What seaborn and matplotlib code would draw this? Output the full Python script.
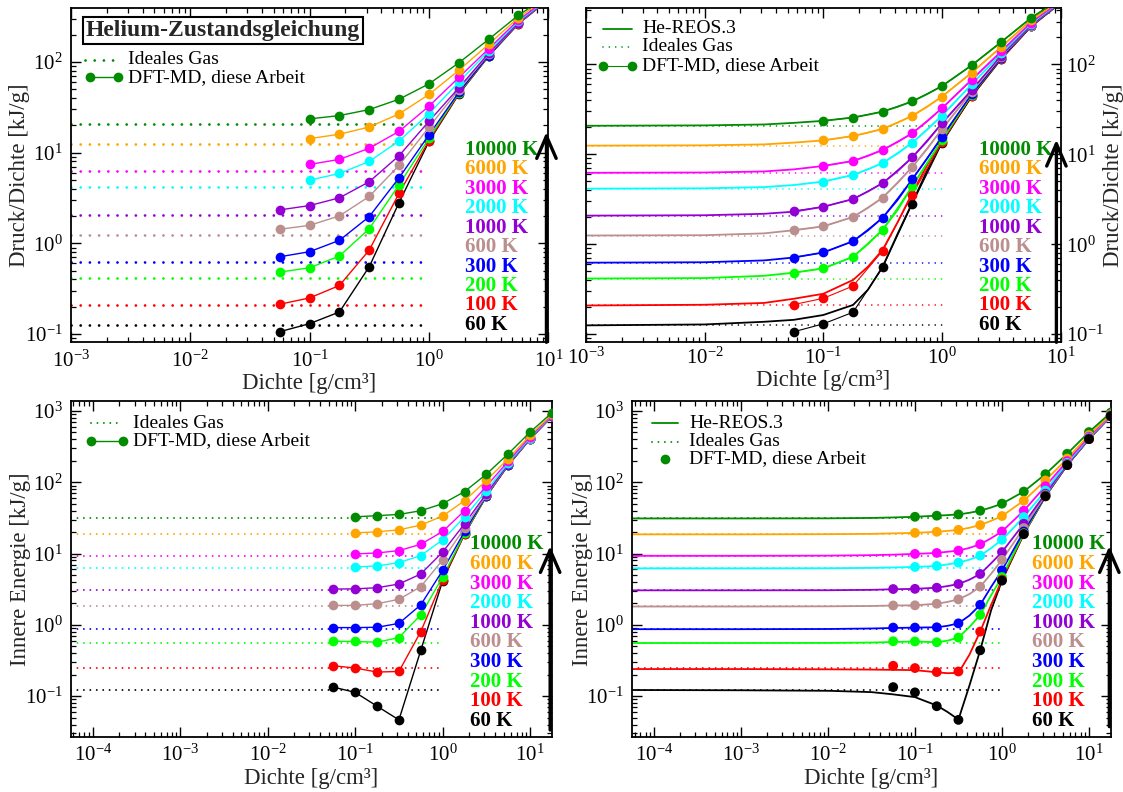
import numpy as np
import pandas as pd
import matplotlib
matplotlib.use("Agg")
import matplotlib.pyplot as plt
import seaborn as sns
from matplotlib.lines import Line2D
from matplotlib.ticker import LogLocator, NullFormatter, LogFormatterSciNotation

# ---------------- data ----------------
temps = ["10000 K", "6000 K", "3000 K", "2000 K", "1000 K", "600 K", "300 K", "200 K", "100 K", "60 K"]
colors = ["#008b00", "#ffa500", "#ff00ff", "#00ffff", "#9400d3", "#bc8f8f", "#0000ff", "#00ff00", "#ff0000", "#000000"]

# ideal gas levels
ideal_pr = [20.8, 12.5, 6.23, 4.15, 2.08, 1.25, 0.623, 0.415, 0.208, 0.125]
ideal_u = [31.1, 18.6, 9.3, 6.2, 3.05, 1.81, 0.87, 0.557, 0.248, 0.122]
rho_ideal_top = [1e-3, 1.0]
rho_ideal_bot = [5.6e-5, 1.0]

nan = np.nan
# DFT-MD densities
rho_dft = [0.0562, 0.1, 0.178, 0.316, 0.562, 1.0, 1.78, 3.16, 5.62, 10.0, 17.8]
# DFT-MD pressure/density [kJ/g]
pr_dft = [
    [nan, 23.6, 25.7, 29.9, 38.9, 57.5, 98, 178, 329, 540, nan],
    [nan, 14.3, 16.0, 19.2, 26.8, 43.9, 81, 157, 310, 520, nan],
    [nan, 7.43, 8.44, 11.2, 17.2, 32.6, 67.6, 140, 292, 505, nan],
    [nan, 4.98, 5.9, 8.0, 13.5, 27.0, 60, 133, 282, 500, nan],
    [2.34, 2.61, 3.18, 4.78, 9.27, 22.2, 52, 125, 272, 495, nan],
    [1.43, 1.58, 2.01, 3.29, 7.25, 19.1, 49.8, 122, 270, 492, nan],
    [0.711, 0.809, 1.08, 1.97, 5.29, 15.7, 46.5, 118, 268, 490, nan],
    [0.482, 0.538, 0.724, 1.45, 4.43, 14.4, 45.7, 118, 268, 490, nan],
    [0.213, 0.25, 0.343, 0.843, 3.57, 13.6, 45, 116, 265, 488, nan],
    [0.106, 0.13, 0.175, 0.552, 2.82, 13.3, 44.3, 116, 265, 488, nan],
]
# DFT-MD inner energy [kJ/g]
u_dft = [
    [nan, 32.8, 34.0, 35.4, 39.9, 50.1, 74, 130, 251, 506, 948],
    [nan, 19.5, 20.2, 21.5, 25.1, 33.6, 55.2, 106, 215, 459, 897],
    [nan, 9.89, 10.2, 11.0, 13.5, 20.4, 39.9, 88, 198, 435, 879],
    [nan, 6.49, 6.7, 7.46, 9.37, 15.6, 32.5, 76.4, 187, 421, 870],
    [3.18, 3.2, 3.32, 3.74, 5.17, 10.5, 26.2, 69.2, 181, 412, 860],
    [1.87, 1.88, 1.98, 2.28, 3.43, 8.15, 22.8, 66.4, 178, 407, 850],
    [0.916, 0.916, 0.925, 1.05, 1.91, 5.82, 20.4, 64.9, 175, 407, 850],
    [0.589, 0.585, 0.571, 0.664, 1.38, 4.69, 19.3, 64.2, 175, 405, 848],
    [0.267, 0.248, 0.218, 0.222, 0.805, 4.3, 18.9, 63.6, 174, 403, 847],
    [0.134, 0.113, 0.0723, 0.0465, 0.44, 4.17, 18.7, 63.6, 174, 403, 847],
]

# He-REOS.3 pressure/density
rho_reos_top = [0.001, 0.01, 0.0316, 0.0562, 0.1, 0.178, 0.237, 0.316, 0.422, 0.562, 0.75, 1.0, 1.78, 3.16, 5.62, 10.0]
pr_reos = [
    [20.8, 21.0, 21.5, 22.4, 23.6, 25.7, 27.6, 29.9, 33.8, 38.9, 46.8, 57.5, 98, 178, 329, 540],
    [12.5, 12.6, 12.9, 13.5, 14.3, 16.0, 17.4, 19.2, 22.5, 26.8, 33.8, 43.9, 81, 157, 310, 520],
    [6.23, 6.28, 6.45, 6.8, 7.43, 8.44, 9.6, 11.2, 13.7, 17.2, 23.3, 32.6, 67.6, 140, 292, 505],
    [4.15, 4.19, 4.32, 4.55, 4.98, 5.9, 6.8, 8.0, 10.2, 13.5, 18.8, 27.0, 60, 133, 282, 500],
    [2.08, 2.1, 2.18, 2.3, 2.61, 3.18, 3.85, 4.78, 6.5, 9.27, 14.0, 22.2, 52, 125, 272, 495],
    [1.25, 1.26, 1.32, 1.43, 1.58, 2.01, 2.53, 3.29, 4.8, 7.25, 11.5, 19.1, 49.8, 122, 270, 492],
    [0.623, 0.63, 0.66, 0.711, 0.809, 1.08, 1.42, 1.97, 3.1, 5.29, 9.0, 15.7, 46.5, 118, 268, 490],
    [0.415, 0.42, 0.445, 0.482, 0.538, 0.724, 1.0, 1.45, 2.4, 4.43, 8.0, 14.4, 45.7, 118, 268, 490],
    [0.208, 0.212, 0.222, 0.247, 0.281, 0.40, 0.56, 0.866, 1.75, 3.72, 7.6, 14.3, 45, 116, 265, 488],
    [0.125, 0.128, 0.137, 0.144, 0.163, 0.211, 0.31, 0.56, 1.3, 2.9, 6.6, 14.1, 44.3, 116, 265, 488],
]
# He-REOS.3 inner energy
rho_reos_bot = [5.6e-5, 1e-3, 0.01, 0.0316, 0.0562, 0.1, 0.178, 0.237, 0.316, 0.422, 0.562, 0.75, 1.0, 1.78, 3.16, 5.62, 10.0, 17.8]
u_reos = [
    [31.1, 31.1, 31.2, 31.6, 32.1, 32.8, 34.0, 34.6, 35.4, 37.3, 39.9, 44.3, 50.1, 74, 130, 251, 506, 948],
    [18.6, 18.6, 18.7, 18.9, 19.2, 19.5, 20.2, 20.8, 21.5, 23.0, 25.1, 28.8, 33.6, 55.2, 106, 215, 459, 897],
    [9.3, 9.3, 9.35, 9.5, 9.65, 9.89, 10.2, 10.6, 11.0, 12.0, 13.5, 16.4, 20.4, 39.9, 88, 198, 435, 879],
    [6.2, 6.2, 6.22, 6.3, 6.38, 6.49, 6.7, 7.05, 7.46, 8.2, 9.37, 11.9, 15.6, 32.5, 76.4, 187, 421, 870],
    [3.05, 3.05, 3.06, 3.1, 3.16, 3.2, 3.32, 3.5, 3.74, 4.3, 5.17, 7.3, 10.5, 26.2, 69.2, 181, 412, 860],
    [1.81, 1.81, 1.82, 1.84, 1.87, 1.88, 1.98, 2.1, 2.28, 2.7, 3.43, 5.2, 8.15, 22.8, 66.4, 178, 407, 850],
    [0.87, 0.87, 0.875, 0.89, 0.905, 0.916, 0.925, 0.97, 1.05, 1.35, 1.91, 3.4, 5.82, 20.4, 64.9, 175, 407, 850],
    [0.557, 0.557, 0.558, 0.565, 0.575, 0.585, 0.571, 0.6, 0.664, 0.93, 1.38, 2.6, 4.69, 19.3, 64.2, 175, 405, 848],
    [0.24, 0.24, 0.238, 0.236, 0.234, 0.232, 0.216, 0.21, 0.212, 0.38, 0.805, 1.9, 4.3, 18.9, 63.6, 174, 403, 847],
    [0.122, 0.121, 0.119, 0.114, 0.106, 0.097, 0.074, 0.06, 0.047, 0.14, 0.44, 1.6, 4.17, 18.7, 63.6, 174, 403, 847],
]

# ---------------- style ----------------
sns.set_theme(style="ticks")
plt.rcParams["font.family"] = ["Liberation Serif", "DejaVu Serif"]
plt.rcParams["mathtext.fontset"] = "custom"
plt.rcParams["mathtext.rm"] = "Liberation Serif"
plt.rcParams["mathtext.it"] = "Liberation Serif:italic"
plt.rcParams["mathtext.bf"] = "Liberation Serif:bold"

pal = dict(zip(temps, colors))
draw_order = temps[::-1]
LEG_GREEN = colors[0]
LABEL_FS = 16.5


def long_df(x, rows):
    recs = []
    for t, row in zip(temps, rows):
        for xi, yi in zip(x, row):
            if not np.isnan(yi):
                recs.append((t, xi, yi))
    return pd.DataFrame(recs, columns=["T", "rho", "val"])


def ideal_df(x, levels):
    recs = []
    for t, v in zip(temps, levels):
        for xi in x:
            recs.append((t, xi, v))
    return pd.DataFrame(recs, columns=["T", "rho", "val"])


fig = plt.figure(figsize=(11.23, 7.92), dpi=100)
ax_tl = fig.add_axes([0.063, 0.5678, 0.4253, 0.4215])
ax_tr = fig.add_axes([0.5218, 0.5678, 0.4227, 0.4215])
ax_bl = fig.add_axes([0.063, 0.0698, 0.4286, 0.4239])
ax_br = fig.add_axes([0.5628, 0.0698, 0.4263, 0.4239])


def style_axes(ax, xlim, ylim, right=False):
    ax.set_xscale("log")
    ax.set_yscale("log")
    ax.set_xlim(*xlim)
    ax.set_ylim(*ylim)
    for axis in (ax.xaxis, ax.yaxis):
        axis.set_major_locator(LogLocator(base=10, numticks=30))
        axis.set_minor_locator(LogLocator(base=10, subs=np.arange(2, 10) * 1.0, numticks=300))
        axis.set_major_formatter(LogFormatterSciNotation())
        axis.set_minor_formatter(NullFormatter())
    ax.tick_params(which="both", direction="in", top=True, right=True, left=True, bottom=True,
                   labelsize=15, pad=6, colors="black")
    ax.tick_params(which="major", length=7, width=1.0)
    ax.tick_params(which="minor", length=3.5, width=0.9)
    for s in ax.spines.values():
        s.set_linewidth(1.3)
        s.set_color("black")
    if right:
        ax.tick_params(labelleft=False, labelright=True, pad=4)
        ax.yaxis.set_label_position("right")
    ax.set_facecolor("white")


style_axes(ax_tl, (1e-3, 10), (0.081, 390))
style_axes(ax_tr, (1e-3, 10), (0.081, 420), right=True)
style_axes(ax_bl, (5.6e-5, 17.8), (0.027, 1380))
style_axes(ax_br, (5.6e-5, 17.8), (0.027, 1380))

# ---------------- marks ----------------
# top-left
sns.lineplot(data=ideal_df(rho_ideal_top, ideal_pr), x="rho", y="val", hue="T", hue_order=draw_order,
             palette=pal, legend=False, ax=ax_tl, estimator=None, lw=2.0,
             linestyle=(0, (0.01, 3.3)), dash_capstyle="round", zorder=1)
sns.lineplot(data=long_df(rho_dft, pr_dft), x="rho", y="val", hue="T", hue_order=draw_order,
             palette=pal, legend=False, ax=ax_tl, estimator=None, lw=1.0, marker="o",
             markersize=7, markeredgewidth=0, zorder=3)

# top-right
sns.lineplot(data=ideal_df(rho_ideal_top, ideal_pr), x="rho", y="val", hue="T", hue_order=draw_order,
             palette=pal, legend=False, ax=ax_tr, estimator=None, lw=1.2,
             linestyle=(0, (0.01, 3.8)), dash_capstyle="round", zorder=1)
sns.lineplot(data=long_df(rho_reos_top, pr_reos), x="rho", y="val", hue="T", hue_order=draw_order,
             palette=pal, legend=False, ax=ax_tr, estimator=None, lw=1.3, zorder=2)
sns.lineplot(data=long_df(rho_dft, pr_dft), x="rho", y="val", hue="T", hue_order=draw_order,
             palette=pal, legend=False, ax=ax_tr, estimator=None, lw=0.8, marker="o",
             markersize=7, markeredgewidth=0, zorder=3)

# bottom-left
sns.lineplot(data=ideal_df(rho_ideal_bot, ideal_u), x="rho", y="val", hue="T", hue_order=draw_order,
             palette=pal, legend=False, ax=ax_bl, estimator=None, lw=1.4,
             linestyle=(0, (0.01, 3.3)), dash_capstyle="round", zorder=1)
sns.lineplot(data=long_df(rho_dft, u_dft), x="rho", y="val", hue="T", hue_order=draw_order,
             palette=pal, legend=False, ax=ax_bl, estimator=None, lw=1.0, marker="o",
             markersize=7, markeredgewidth=0, zorder=3)

# bottom-right
sns.lineplot(data=ideal_df(rho_ideal_bot, ideal_u), x="rho", y="val", hue="T", hue_order=draw_order,
             palette=pal, legend=False, ax=ax_br, estimator=None, lw=1.4,
             linestyle=(0, (0.01, 3.3)), dash_capstyle="round", zorder=1)
sns.lineplot(data=long_df(rho_reos_bot, u_reos), x="rho", y="val", hue="T", hue_order=draw_order,
             palette=pal, legend=False, ax=ax_br, estimator=None, lw=1.3, zorder=2)
sns.scatterplot(data=long_df(rho_dft, u_dft), x="rho", y="val", hue="T", hue_order=draw_order,
                palette=pal, legend=False, ax=ax_br, s=50, linewidth=0, zorder=3)

for ax in (ax_tl, ax_tr, ax_bl, ax_br):
    ax.set_xlabel("Dichte [g/cm³]", fontsize=LABEL_FS, labelpad=1)
ax_tl.set_ylabel("Druck/Dichte [kJ/g]", fontsize=LABEL_FS)
ax_tr.set_ylabel("Druck/Dichte [kJ/g]", fontsize=LABEL_FS, labelpad=-1)
ax_bl.set_ylabel("Innere Energie [kJ/g]", fontsize=LABEL_FS)
ax_br.set_ylabel("Innere Energie [kJ/g]", fontsize=LABEL_FS)
ax_tl.yaxis.set_label_coords(-0.086, 0.5)
ax_bl.yaxis.set_label_coords(-0.082, 0.5)
ax_br.yaxis.set_label_coords(-0.082, 0.5)

# ---------------- temperature labels & arrows ----------------
def temp_labels(ax, x0, ytop, step):
    for i, (t, c) in enumerate(zip(temps, colors)):
        ax.text(x0, ytop - i * step, t, transform=ax.transAxes, color=c, fontsize=15,
                fontweight="bold", ha="left", va="center", zorder=5)


def arrow(ax, x, y0, y1):
    ax.annotate("", xy=(x, y1), xytext=(x, y0), xycoords="axes fraction", textcoords="axes fraction",
                arrowprops=dict(arrowstyle="->,head_length=0.8,head_width=0.35", lw=2.4, color="black",
                                mutation_scale=20, shrinkA=0, shrinkB=0), zorder=6)


temp_labels(ax_tl, 0.826, 0.576, 0.0582)
temp_labels(ax_tr, 0.828, 0.576, 0.0582)
temp_labels(ax_bl, 0.830, 0.573, 0.0584)
temp_labels(ax_br, 0.836, 0.573, 0.0584)
arrow(ax_tl, 0.996, 0.0, 0.63)
arrow(ax_tr, 0.991, 0.0, 0.607)
arrow(ax_bl, 0.996, 0.02, 0.568)
arrow(ax_br, 0.997, 0.03, 0.568)

# ---------------- legends (manual) ----------------
def leg_line(ax, x0, x1, y, **kw):
    ax.add_line(Line2D([x0, x1], [y, y], transform=ax.transAxes, color=LEG_GREEN, **kw))


def leg_text(ax, x, y, s):
    ax.text(x, y, s, transform=ax.transAxes, fontsize=14, ha="left", va="center", color="black")


ax_tl.text(0.318, 0.9335, "Helium-Zustandsgleichung", transform=ax_tl.transAxes, fontsize=17,
           fontweight="bold", ha="center", va="center",
           bbox=dict(boxstyle="square,pad=0.12", fc="white", ec="black", lw=1.5))
leg_line(ax_tl, 0.030, 0.100, 0.847, lw=2.0, linestyle=(0, (0.01, 3.3)), dash_capstyle="round")
leg_text(ax_tl, 0.120, 0.847, "Ideales Gas")
leg_line(ax_tl, 0.040, 0.099, 0.794, lw=1.0, marker="o", markersize=7, markeredgewidth=0)
leg_text(ax_tl, 0.120, 0.794, "DFT-MD, diese Arbeit")

leg_line(ax_tr, 0.036, 0.097, 0.94, lw=1.3)
leg_text(ax_tr, 0.118, 0.94, "He-REOS.3")
leg_line(ax_tr, 0.036, 0.097, 0.886, lw=1.2, linestyle=(0, (0.01, 3.8)), dash_capstyle="round")
leg_text(ax_tr, 0.118, 0.886, "Ideales Gas")
leg_line(ax_tr, 0.036, 0.097, 0.829, lw=0.8, marker="o", markersize=7, markeredgewidth=0)
leg_text(ax_tr, 0.118, 0.829, "DFT-MD, diese Arbeit")

leg_line(ax_bl, 0.042, 0.109, 0.934, lw=1.4, linestyle=(0, (0.01, 3.3)), dash_capstyle="round")
leg_text(ax_bl, 0.130, 0.934, "Ideales Gas")
leg_line(ax_bl, 0.042, 0.109, 0.881, lw=1.0, marker="o", markersize=7, markeredgewidth=0)
leg_text(ax_bl, 0.130, 0.881, "DFT-MD, diese Arbeit")

leg_line(ax_br, 0.041, 0.096, 0.934, lw=1.3)
leg_text(ax_br, 0.119, 0.934, "He-REOS.3")
leg_line(ax_br, 0.041, 0.096, 0.878, lw=1.4, linestyle=(0, (0.01, 3.3)), dash_capstyle="round")
leg_text(ax_br, 0.119, 0.878, "Ideales Gas")
leg_line(ax_br, 0.0685, 0.0695, 0.827, lw=0, marker="o", markersize=7, markeredgewidth=0, markevery=[0])
leg_text(ax_br, 0.119, 0.827, "DFT-MD, diese Arbeit")

fig.savefig("out.png", dpi=100, facecolor="white")
